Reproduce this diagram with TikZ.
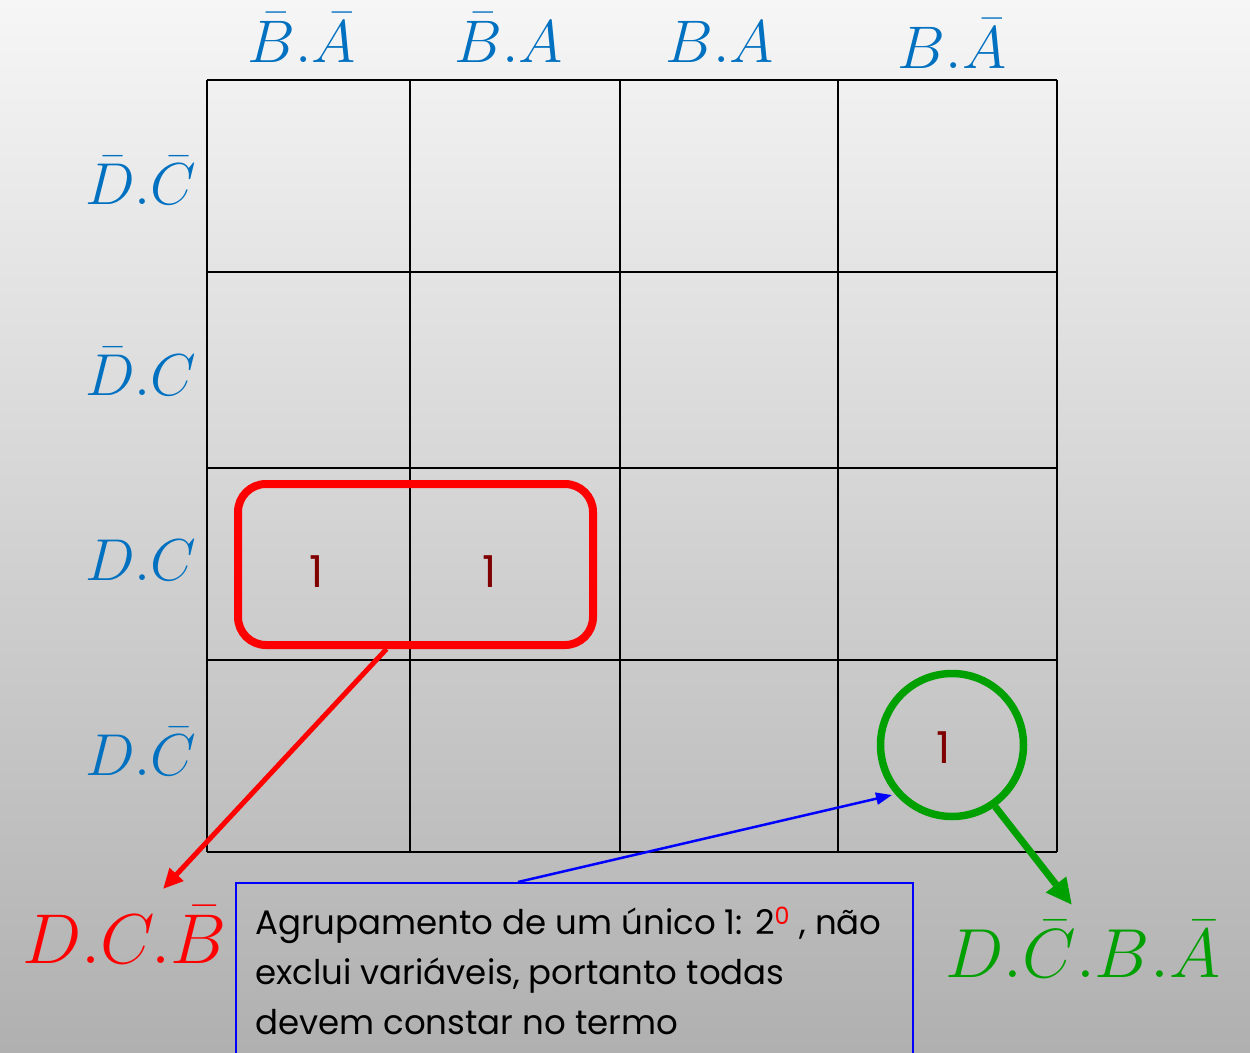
\documentclass[tikz,border=0pt]{standalone}
\usepackage{fontspec}
\usepackage{graphicx}
\usetikzlibrary{arrows.meta,calc}
\newfontfamily\gothic{Poppins}
\definecolor{lblue}{RGB}{0,112,192}
\definecolor{kgreen}{RGB}{0,160,0}
\definecolor{dred}{RGB}{128,0,0}
\definecolor{kblue}{RGB}{0,0,255}
\newcommand{\kmbig}[2]{\scalebox{#1}{$#2$}}
\begin{document}
\begin{tikzpicture}[x=1pt,y=-1pt,
  gridline/.style={line width=2.5pt,black},
  collabel/.style={text=lblue,font=\fontsize{20}{20}\selectfont,anchor=base,inner sep=0pt},
  rowlabel/.style={text=lblue,font=\fontsize{20}{20}\selectfont,anchor=base west,inner sep=0pt},
  onecell/.style={text=dred,font=\gothic\fontsize{44}{44}\selectfont,inner sep=0pt},
  msgline/.style={font=\gothic\fontsize{34}{34}\selectfont,anchor=base west,inner sep=0pt},
  term/.style={font=\fontsize{20}{20}\selectfont,anchor=base west,inner sep=0pt}]
\useasboundingbox (0,0) rectangle (1250,1052);
\shade[top color={rgb,255:red,246;green,246;blue,246}, bottom color={rgb,255:red,176;green,176;blue,176}] (0,0) rectangle (1250,1052);
% grid
\foreach \x in {207,410,620,838,1057} \draw[gridline] (\x,80) -- (\x,852);
\foreach \y in {80,272,468,660,852} \draw[gridline] (207,\y) -- (1057,\y);
% column labels
\node[collabel] (c1) at (302,62) {\kmbig{2.9}{\bar{B}.\bar{A}}};
\node[collabel] (c2) at (509,62) {\kmbig{2.9}{\bar{B}.A}};
\node[collabel] (c3) at (720,62) {\kmbig{2.9}{B.A}};
\node[collabel] (c4) at (952,68) {\kmbig{2.9}{B.\bar{A}}};
% row labels
\node[rowlabel] (r1) at (85,204) {\kmbig{2.85}{\bar{D}.\bar{C}}};
\node[rowlabel] (r2) at (85,395) {\kmbig{2.85}{\bar{D}.C}};
\node[rowlabel] (r3) at (85,580) {\kmbig{2.85}{D.C}};
\node[rowlabel] (r4) at (85,775) {\kmbig{2.85}{D.\bar{C}}};
% ones
\node[onecell] (o1) at (317,572) {1};
\node[onecell] (o2) at (490,572) {1};
\node[onecell] (o3) at (944,748) {1};
% groups
\node[draw=red,line width=8pt,rounded corners=28pt,minimum width=355pt,minimum height=161pt,inner sep=0pt] (grp) at (415.5,564.5) {};
\node[draw=kgreen,line width=7.5pt,circle,minimum size=143pt,inner sep=0pt] (circ) at (952,745) {};
% terms
\node[term,text=red] (tr) at (22,963) {\kmbig{3.4}{D.C.\bar{B}}};
\node[term,text=kgreen] (tg) at (945,977) {\kmbig{3.35}{D.\bar{C}.B.\bar{A}}};
% message box
\node[draw=kblue,line width=2pt,minimum width=677pt,minimum height=200pt,anchor=north west,inner sep=0pt] (box) at (235,882) {};
\node[msgline] (m1) at (255,934) {Agrupamento de um único 1: 2\textsuperscript{\textcolor{red}{0}} , não};
\node[msgline] (m2) at (255,984) {exclui variáveis, portanto todas};
\node[msgline] (m3) at (255,1034) {devem constar no termo};
% arrows
\coordinate (redend) at (163,889);
\coordinate (greenend) at (1072,905);
\coordinate (blueend) at (892,795);
\draw[red,line width=5pt,-{Triangle[length=20pt,width=18pt]}] ([xshift=-29pt]grp.south) -- (redend);
\draw[kgreen,line width=7pt,-{Triangle[length=26pt,width=24pt]}] (circ.-55) -- (greenend);
\draw[kblue,line width=2.5pt,-{Triangle[length=16pt,width=12pt]}] ([xshift=283pt]box.north west) -- (blueend);
\end{tikzpicture}
\end{document}
